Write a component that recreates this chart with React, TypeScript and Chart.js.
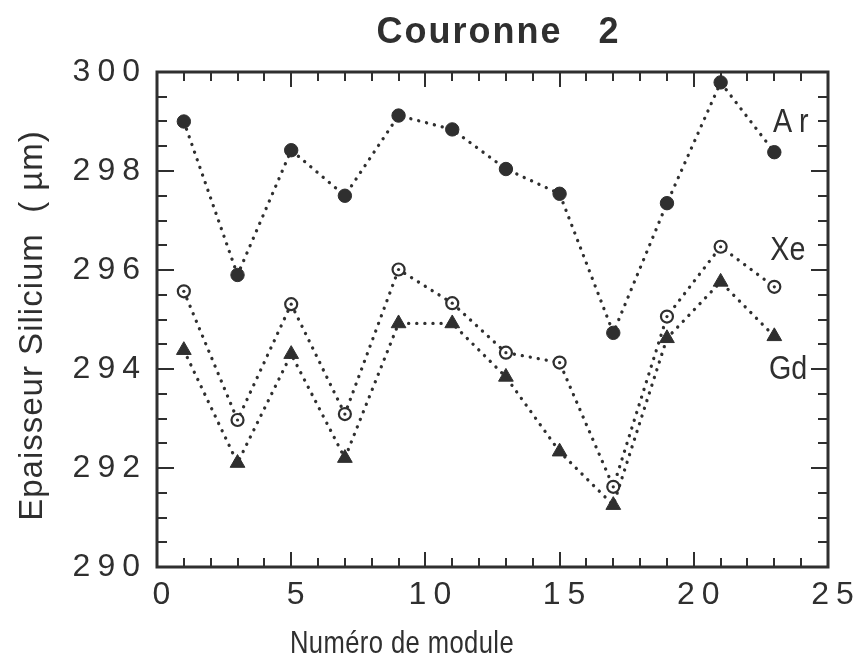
import React, { useEffect, useRef } from 'react';
import { Chart, registerables } from 'chart.js';

Chart.register(...registerables);

// ---- data ----
const modules = [1, 3, 5, 7, 9, 11, 13, 15, 17, 19, 21, 23];
const arValues = [299.0, 295.9, 298.42, 297.5, 299.12, 298.84, 298.04, 297.54, 294.73, 297.35, 299.79, 298.38];
const xeValues = [295.57, 292.97, 295.31, 293.09, 296.01, 295.33, 294.33, 294.13, 291.62, 295.06, 296.47, 295.66];
const gdValues = [294.38, 292.1, 294.3, 292.2, 294.92, 294.92, 293.84, 292.33, 291.25, 294.62, 295.76, 294.66];
const seriesNames = ['Ar', 'Xe', 'Gd'];
const xTicks = [0, 5, 10, 15, 20, 25];
const yTicks = [290, 292, 294, 296, 298, 300];
const chartTitle = 'Couronne   2';
const xTitle = 'Numéro de module';
const yTitle = 'Epaisseur Silicium  ( µm)';

const INK = '#2f2f2f';
const SANS = '"Liberation Sans", Arial, Helvetica, sans-serif';

const toPoints = (vals: number[]) => modules.map((m, i) => ({ x: m, y: vals[i] }));

const lineStyle = {
  borderColor: INK,
  borderWidth: 3.3,
  borderDash: [0.1, 8],
  borderCapStyle: 'round' as const,
  fill: false,
  tension: 0,
};

const condensedText = (ctx: any, text: string, x: number, y: number, sx: number) => {
  ctx.save();
  ctx.translate(x, y);
  ctx.scale(sx, 1);
  ctx.fillText(text, 0, 0);
  ctx.restore();
};

const decorPlugin = {
  id: 'decor',
  beforeDraw(chart: any) {
    chart.ctx.letterSpacing = '7px';
  },
  afterDraw(chart: any) {
    const { ctx, chartArea: a } = chart;
    const xs = chart.scales.x;
    const ys = chart.scales.y;
    ctx.save();
    ctx.letterSpacing = '0px';
    ctx.strokeStyle = INK;
    ctx.fillStyle = INK;
    // ticks inward on all four sides
    ctx.lineWidth = 2;
    ctx.beginPath();
    for (let v = 0; v <= 25; v += 1) {
      const px = Math.round(xs.getPixelForValue(v));
      const len = v % 5 === 0 ? 15 : 9;
      ctx.moveTo(px, a.bottom);
      ctx.lineTo(px, a.bottom - len);
      ctx.moveTo(px, a.top);
      ctx.lineTo(px, a.top + len);
    }
    for (let v = 290; v <= 300.001; v += 0.5) {
      const py = Math.round(ys.getPixelForValue(v));
      const major = Math.abs(v / 2 - Math.round(v / 2)) < 1e-6;
      const len = major ? 17 : 10;
      ctx.moveTo(a.left, py);
      ctx.lineTo(a.left + len, py);
      ctx.moveTo(a.right, py);
      ctx.lineTo(a.right - len, py);
    }
    ctx.stroke();
    // frame
    ctx.lineWidth = 3;
    ctx.strokeRect(a.left, a.top, a.right - a.left, a.bottom - a.top);

    // chart title
    ctx.font = `bold 36px ${SANS}`;
    ctx.letterSpacing = '2px';
    ctx.textAlign = 'center';
    ctx.textBaseline = 'alphabetic';
    ctx.fillText(chartTitle, (a.left + a.right) / 2 + 6, 43);

    // x title (slightly condensed)
    ctx.font = `32px ${SANS}`;
    ctx.letterSpacing = '0.5px';
    condensedText(ctx, xTitle, 402, 653, 0.8);

    // y title
    ctx.save();
    ctx.translate(42, (a.top + a.bottom) / 2 + 6);
    ctx.rotate(-Math.PI / 2);
    ctx.font = `33px ${SANS}`;
    ctx.letterSpacing = '1px';
    ctx.fillText(yTitle, 0, 0);
    ctx.restore();

    // series labels
    ctx.textAlign = 'left';
    ctx.font = `33px ${SANS}`;
    const labelSpots = [
      { name: seriesNames[0], x: 22.95, y: 298.79, spacing: '8px' },
      { name: seriesNames[1], x: 22.85, y: 296.2, spacing: '0px' },
      { name: seriesNames[2], x: 22.8, y: 293.8, spacing: '0px' },
    ];
    for (const s of labelSpots) {
      ctx.letterSpacing = s.spacing;
      condensedText(ctx, s.name, xs.getPixelForValue(s.x), ys.getPixelForValue(s.y), 0.87);
    }
    ctx.restore();
  },
};

export default function App() {
  const ref = useRef<HTMLCanvasElement | null>(null);
  useEffect(() => {
    if (!ref.current) return;
    const chart = new Chart(ref.current, {
      type: 'line',
      data: {
        datasets: [
          {
            label: seriesNames[0],
            data: toPoints(arValues),
            ...lineStyle,
            pointStyle: 'circle',
            pointRadius: 6.7,
            pointBackgroundColor: INK,
            pointBorderColor: INK,
            pointBorderWidth: 1,
          },
          {
            label: seriesNames[1],
            data: toPoints(xeValues),
            ...lineStyle,
            pointStyle: 'circle',
            pointRadius: 6,
            pointBackgroundColor: '#ffffff',
            pointBorderColor: INK,
            pointBorderWidth: 2.2,
          },
          {
            label: seriesNames[1] + ' centre',
            data: toPoints(xeValues),
            showLine: false,
            order: -1,
            pointStyle: 'circle',
            pointRadius: 1.6,
            pointBackgroundColor: INK,
            pointBorderColor: INK,
            pointBorderWidth: 0,
          },
          {
            label: seriesNames[2],
            data: toPoints(gdValues),
            ...lineStyle,
            pointStyle: 'triangle',
            pointRadius: 8.5,
            pointBackgroundColor: INK,
            pointBorderColor: INK,
            pointBorderWidth: 1,
          },
        ],
      },
      options: {
        animation: false,
        responsive: false,
        devicePixelRatio: 1,
        layout: { padding: { left: 0, top: 72, right: 30, bottom: 0 } },
        plugins: {
          legend: { display: false },
          title: { display: false },
          tooltip: { enabled: false },
        },
        scales: {
          x: {
            type: 'linear',
            min: 0,
            max: 25,
            afterFit: (s: any) => { s.height = 97; },
            afterBuildTicks: (s: any) => { s.ticks = xTicks.map((v) => ({ value: v })); },
            grid: { display: false, drawTicks: false },
            border: { display: false },
            ticks: {
              font: { family: SANS, size: 32 },
              color: INK,
              padding: 9,
              labelOffset: 8,
              maxRotation: 0,
              autoSkip: false,
            },
          },
          y: {
            type: 'linear',
            min: 290,
            max: 300,
            afterFit: (s: any) => { s.width = 157; },
            afterBuildTicks: (s: any) => { s.ticks = yTicks.map((v) => ({ value: v })); },
            grid: { display: false, drawTicks: false },
            border: { display: false },
            ticks: {
              font: { family: SANS, size: 32 },
              color: INK,
              padding: 10,
              autoSkip: false,
            },
          },
        },
      },
      plugins: [decorPlugin],
    } as any);
    return () => chart.destroy();
  }, []);
  return (
    <div style={{ position: 'fixed', left: 0, top: 0, width: 858, height: 664, background: '#fff' }}>
      <canvas ref={ref} width={858} height={664} style={{ display: 'block' }} />
    </div>
  );
}
